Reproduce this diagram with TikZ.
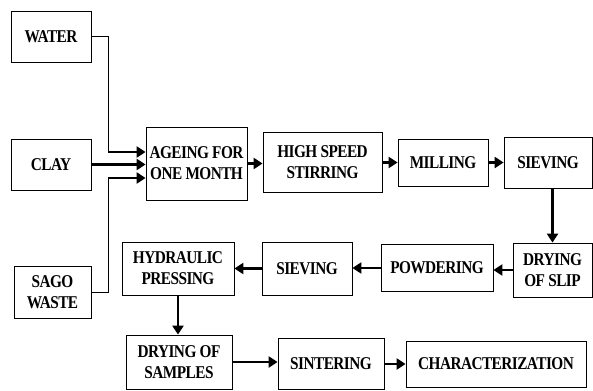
\documentclass[tikz,border=0pt]{standalone}
\usepackage{fontspec}
\setmainfont{Liberation Serif}[FakeStretch=0.85, LetterSpace=-3]
\usetikzlibrary{arrows.meta}

\begin{document}
\begin{tikzpicture}[x=1pt, y=-1pt,
    every node/.style={font=\fontsize{18}{21}\selectfont\bfseries},
    box/.style={draw, line width=0.8pt, align=center, inner sep=2pt},
    flow/.style={-{Triangle[length=9pt,width=11pt]}, line width=2.6pt},
    feed/.style={line width=1pt}]
    \useasboundingbox (0,0) rectangle (593,390);

    % raw materials
    \node[box, minimum width=80, minimum height=51] (water) at (51,36.5) {WATER};
    \node[box, minimum width=80, minimum height=51] (clay) at (51,164.5) {CLAY};
    \node[box, minimum width=77, minimum height=52] (sago) at (52.5,292) {SAGO\\WASTE};

    % first row
    \node[box, minimum width=101, minimum height=73] (ageing) at (196.5,163.5) {AGEING FOR\\ONE  MONTH};
    \node[box, minimum width=119, minimum height=60] (stirring) at (322.5,162.5) {HIGH SPEED\\STIRRING};
    \node[box, minimum width=90, minimum height=47] (milling) at (443,162.5) {MILLING};
    \node[box, minimum width=88, minimum height=51] (sieve1) at (548,162.5) {SIEVING};

    % second row
    \node[box, minimum width=79, minimum height=54] (dryslip) at (552.5,270) {DRYING\\OF SLIP};
    \node[box, minimum width=112, minimum height=47] (powder) at (437,268) {POWDERING};
    \node[box, minimum width=90, minimum height=53] (sieve2) at (307,268.5) {SIEVING};
    \node[box, minimum width=112, minimum height=53] (press) at (178,268.5) {HYDRAULIC\\PRESSING};

    % third row
    \node[box, minimum width=106, minimum height=54] (drysample) at (179,362) {DRYING OF\\SAMPLES};
    \node[box, minimum width=106, minimum height=51] (sinter) at (331,364) {SINTERING};
    \node[box, minimum width=180, minimum height=46] (charac) at (496,364) {CHARACTERIZATION};

    \coordinate (wbend) at (108,152);
    \coordinate (sbend) at (108,178);

    \draw[feed] (water.east) -| (wbend);
    \draw[feed] (sago.east) -| (sbend);
    \draw[flow] (wbend) -- (wbend -| ageing.west);
    \draw[flow] (clay.east) -- (clay.east -| ageing.west);
    \draw[flow] (sbend) -- (sbend -| ageing.west);

    \draw[flow] (ageing.east) -- (ageing.east -| stirring.west);
    \draw[flow] (stirring.east) -- (milling.west);
    \draw[flow] (milling.east) -- (sieve1.west);
    \draw[flow] (dryslip.north |- sieve1.south) -- (dryslip.north);
    \draw[flow] (dryslip.west) -- (dryslip.west -| powder.east);
    \draw[flow] (powder.west) -- (powder.west -| sieve2.east);
    \draw[flow] (sieve2.west) -- (press.east);
    \draw[flow] (press.south) -- (press.south |- drysample.north);
    \draw[flow] (drysample.east) -- (drysample.east -| sinter.west);
    \draw[flow] (sinter.east) -- (charac.west);
\end{tikzpicture}
\end{document}
